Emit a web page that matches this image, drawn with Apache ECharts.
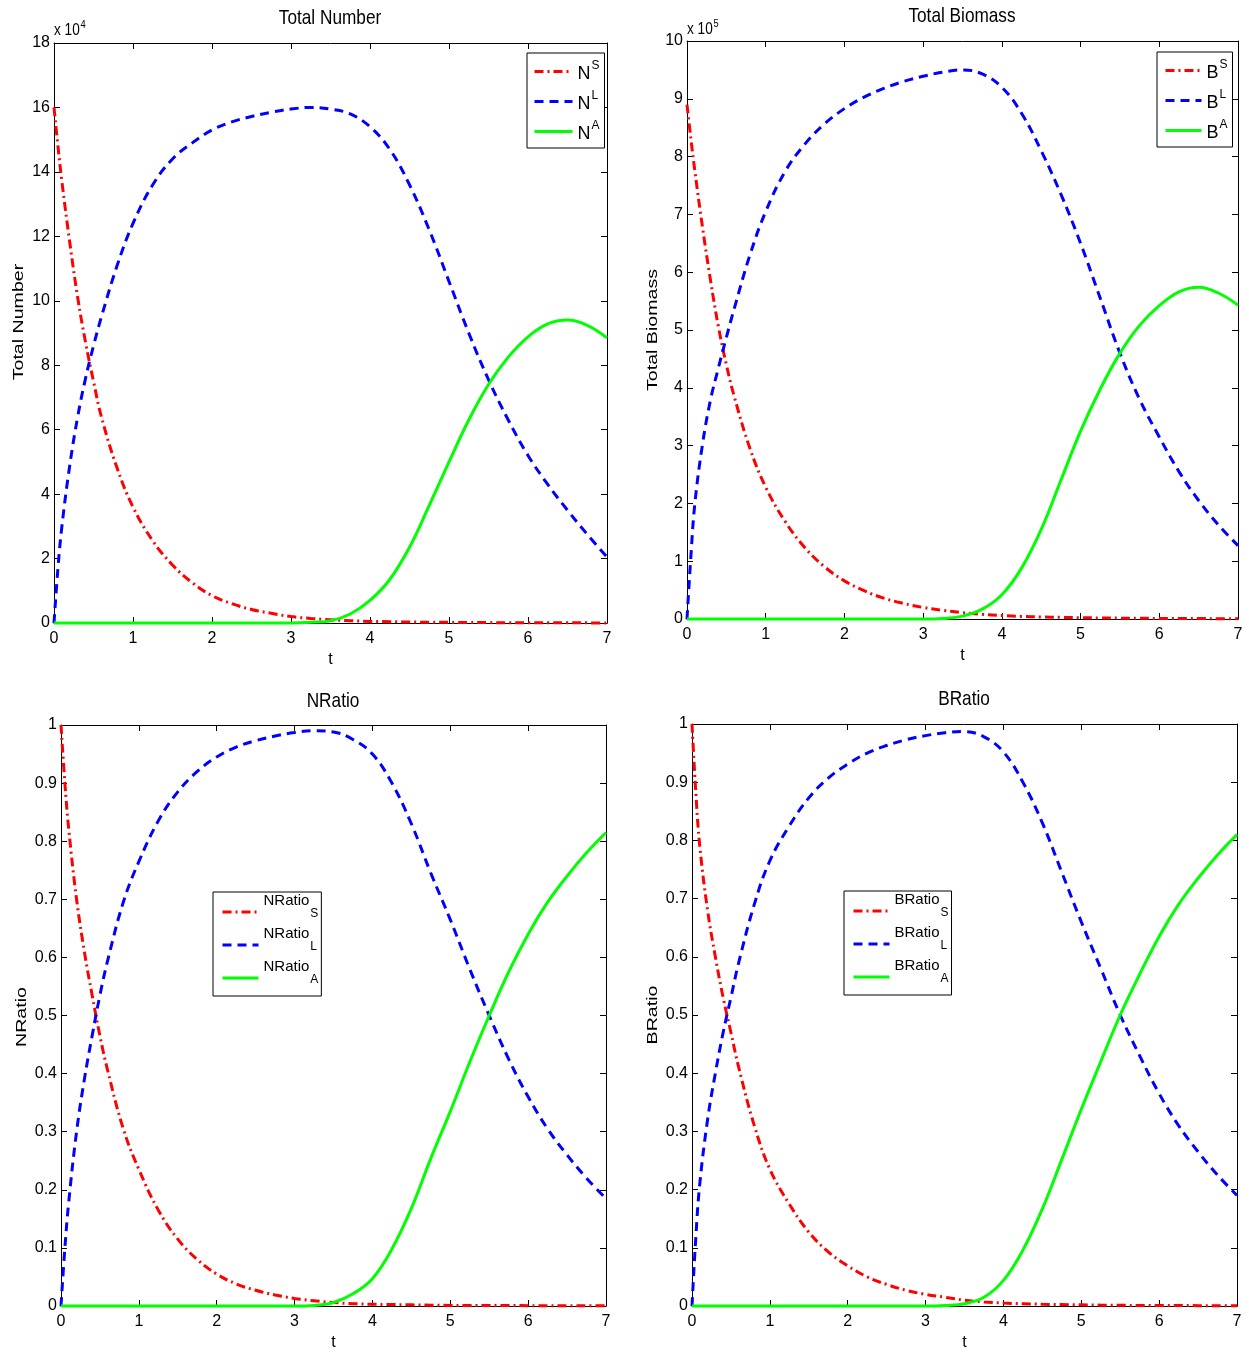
<!DOCTYPE html>
<html><head><meta charset="utf-8">
<script src="https://cdn.jsdelivr.net/npm/echarts@6/dist/echarts.min.js"></script>
<style>html,body{margin:0;padding:0;background:#fff}#c{width:1249px;height:1358px}</style>
</head><body><div id="c"></div>
<script>
// ---- data ----
const t = [0,0.05,0.1,0.2,0.3,0.4,0.5,0.6,0.8,1,1.25,1.5,1.75,2,2.25,2.5,2.75,3,3.25,3.5,3.75,4,4.25,4.5,4.75,5,5.25,5.5,5.75,6,6.25,6.5,6.75,7];
// Total Number (x 10^4)
const numberS = [16,14.8,13.7,11.8,10.1,8.7,7.5,6.4,4.8,3.6,2.55,1.8,1.25,0.85,0.6,0.42,0.3,0.2,0.14,0.1,0.07,0.05,0.04,0.03,0.025,0.02,0.015,0.012,0.01,0.008,0.006,0.005,0.004,0.003];
const numberL = [0,1.7,3.0,4.9,6.4,7.6,8.6,9.5,11.1,12.4,13.6,14.4,14.9,15.3,15.55,15.72,15.85,15.95,16.0,15.95,15.8,15.4,14.7,13.6,12.2,10.6,9.0,7.55,6.3,5.2,4.3,3.5,2.75,2.05];
const numberA = [0,0,0,0,0,0,0,0,0,0,0,0,0,0,0,0,0,0,0.02,0.07,0.28,0.7,1.35,2.35,3.65,5.0,6.3,7.4,8.25,8.88,9.28,9.4,9.24,8.85];
// Total Biomass (x 10^5)
const biomassS = [8.9,8.3,7.75,6.75,5.85,5.05,4.4,3.85,2.95,2.28,1.68,1.23,0.9,0.66,0.49,0.36,0.27,0.2,0.15,0.11,0.08,0.06,0.045,0.035,0.028,0.022,0.018,0.015,0.012,0.01,0.008,0.007,0.006,0.005];
const biomassL = [0,1.1,2.0,3.05,3.8,4.35,4.87,5.37,6.3,7.05,7.75,8.22,8.57,8.83,9.03,9.18,9.3,9.39,9.46,9.5,9.43,9.2,8.75,8.1,7.35,6.5,5.55,4.6,3.8,3.15,2.55,2.05,1.63,1.27];
const biomassA = [0,0,0,0,0,0,0,0,0,0,0,0,0,0,0,0,0,0,0.01,0.05,0.17,0.42,0.88,1.55,2.4,3.25,3.98,4.6,5.08,5.42,5.66,5.74,5.64,5.43];
// NRatio
const nratioS = [1,0.9,0.82,0.7,0.61,0.535,0.465,0.405,0.305,0.235,0.165,0.115,0.08,0.055,0.038,0.027,0.019,0.013,0.009,0.006,0.004,0.003,0.0025,0.002,0.0015,0.001,0.001,0.001,0.0008,0.0006,0.0005,0.0004,0.0003,0.0003];
const nratioL = [0,0.1,0.18,0.3,0.39,0.465,0.535,0.595,0.695,0.765,0.835,0.885,0.92,0.945,0.962,0.973,0.981,0.987,0.99,0.988,0.975,0.95,0.9,0.83,0.745,0.665,0.58,0.5,0.425,0.36,0.305,0.26,0.22,0.185];
const nratioA = [0,0,0,0,0,0,0,0,0,0,0,0,0,0,0,0,0,0,0.001,0.006,0.021,0.047,0.098,0.168,0.254,0.335,0.42,0.5,0.575,0.64,0.695,0.74,0.78,0.815];
// BRatio
const bratioS = [1,0.88,0.79,0.68,0.6,0.53,0.47,0.41,0.31,0.235,0.175,0.127,0.093,0.069,0.05,0.037,0.027,0.02,0.015,0.01,0.007,0.005,0.004,0.003,0.0025,0.002,0.0015,0.0012,0.001,0.001,0.0008,0.0006,0.0005,0.0005];
const bratioL = [0,0.12,0.21,0.32,0.4,0.47,0.53,0.59,0.69,0.765,0.825,0.873,0.907,0.931,0.95,0.963,0.973,0.98,0.985,0.987,0.978,0.952,0.9,0.83,0.745,0.66,0.58,0.5,0.43,0.365,0.31,0.265,0.225,0.19];
const bratioA = [0,0,0,0,0,0,0,0,0,0,0,0,0,0,0,0,0,0,0.001,0.004,0.015,0.044,0.096,0.167,0.252,0.338,0.42,0.5,0.57,0.635,0.69,0.735,0.775,0.81];

const titles = ['Total Number','Total Biomass','NRatio','BRatio'];
const yNames = ['Total Number','Total Biomass','NRatio','BRatio'];
const yMax = [18,10,1,1];
const yStep = [2,1,0.1,0.1];
const xMax = 7, xStep = 1;

// ---- layout / style ----
const FN = '"Liberation Sans",Arial,sans-serif';
const grids = [
  {left:54, top:43, width:553, height:580},
  {left:687, top:41, width:551, height:578},
  {left:61, top:725, width:545, height:581},
  {left:692, top:724, width:545, height:582}
];
const RED = {color:'#ff0000', width:3, type:[9,4,2,4], cap:'butt'};
const BLUE = {color:'#0000ff', width:3, type:[9,6], cap:'butt'};
const GREEN = {color:'#00ff00', width:3, type:'solid'};

const axLine = {show:true, onZero:false, lineStyle:{color:'#000', width:1}};
const axTick = {show:true, inside:true, length:6, lineStyle:{color:'#000', width:1}};
const xAxes = [], yAxes = [];
grids.forEach((g,i)=>{
  xAxes.push({gridIndex:i, type:'value', min:0, max:xMax, interval:xStep, position:'bottom',
    axisLine:axLine, axisTick:axTick, splitLine:{show:false},
    axisLabel:{color:'#000', fontFamily:FN, fontSize:16, margin:8},
    name:'t', nameLocation:'middle', nameGap:29,
    nameTextStyle:{color:'#000', fontFamily:FN, fontSize:16}});
  xAxes.push({gridIndex:i, type:'value', min:0, max:xMax, interval:xStep, position:'top',
    axisLine:axLine, axisTick:axTick, splitLine:{show:false}, axisLabel:{show:false}});
  yAxes.push({gridIndex:i, type:'value', min:0, max:yMax[i], interval:yStep[i], position:'left',
    axisLine:axLine, axisTick:axTick, splitLine:{show:false},
    axisLabel:{color:'#000', fontFamily:FN, fontSize:16, margin:4}});
  yAxes.push({gridIndex:i, type:'value', min:0, max:yMax[i], interval:yStep[i], position:'right',
    axisLine:axLine, axisTick:axTick, splitLine:{show:false}, axisLabel:{show:false}});
});

function pairs(arr){ return t.map((x,k)=>[x, arr[k]]); }
function mk(name, arr, style, i){
  return {name, type:'line', xAxisIndex:2*i, yAxisIndex:2*i, data:pairs(arr),
    symbol:'none', smooth:0.4, clip:false, lineStyle:style,
    itemStyle:{color:style.color}, silent:true, animation:false};
}
const series = [
  mk('NS', numberS, RED, 0), mk('NL', numberL, BLUE, 0), mk('NA', numberA, GREEN, 0),
  mk('BS', biomassS, RED, 1), mk('BL', biomassL, BLUE, 1), mk('BA', biomassA, GREEN, 1),
  mk('NRatioS', nratioS, RED, 2), mk('NRatioL', nratioL, BLUE, 2), mk('NRatioA', nratioA, GREEN, 2),
  mk('BRatioS', bratioS, RED, 3), mk('BRatioL', bratioL, BLUE, 3), mk('BRatioA', bratioA, GREEN, 3)
];

const richSup = {
  m:{fontFamily:FN, fontSize:18, color:'#000', verticalAlign:'bottom'},
  s:{fontFamily:FN, fontSize:12, color:'#000', verticalAlign:'top', padding:[0,0,11,1]}
};
const richSub = {
  m:{fontFamily:FN, fontSize:15, color:'#000', verticalAlign:'top'},
  s:{fontFamily:FN, fontSize:12, color:'#000', verticalAlign:'bottom', padding:[15,0,11,1]}
};
function supFmt(n){ return '{m|' + n.slice(0,-1) + '}{s|' + n.slice(-1) + '}'; }
function legendBase(names, left, top, padding, gap, rich, iw, tg){
  return {data:names, orient:'vertical', left, top, padding, itemGap:gap,
    itemWidth:iw, itemHeight:14, itemTextGap:tg, selectedMode:false,
    backgroundColor:'#fff', borderColor:'#000', borderWidth:1, borderRadius:0,
    itemStyle:{opacity:0}, lineStyle:{width:3}, formatter:supFmt, textStyle:{rich}};
}
const legends = [
  legendBase(['NS','NL','NA'], 527, 53, [7,5,5,6], 7, richSup, 38, 2),
  legendBase(['BS','BL','BA'], 1157, 52, [7,5,5,7], 7, richSup, 36, 2),
  legendBase(['NRatioS','NRatioL','NRatioA'], 213, 892, [1,3,10,8], 6, richSub, 36, 4),
  legendBase(['BRatioS','BRatioL','BRatioA'], 844, 891, [1,3,10,8], 6, richSub, 36, 4)
];

const titlePos = [[330,18],[962,16],[333,701],[964,699]];
const yNamePos = [[19,322],[653,330],[22,1017],[653,1015]];
const graphics = [];
titles.forEach((s,i)=>graphics.push({type:'text', x:titlePos[i][0], y:titlePos[i][1], scaleX:0.82,
  style:{text:s, font:'21px '+FN, fill:'#000', align:'center', verticalAlign:'middle'}}));
yNames.forEach((s,i)=>graphics.push({type:'text', x:yNamePos[i][0], y:yNamePos[i][1],
  rotation:Math.PI/2, scaleX:1.4,
  style:{text:s, font:'14px '+FN, fill:'#000', align:'center', verticalAlign:'middle'}}));
const expo = [['4',54,29],['5',687,28]];
expo.forEach(e=>graphics.push({type:'text', x:e[1], y:e[2], scaleX:0.85,
  style:{text:'{a|x 10}{b|'+e[0]+'}', align:'left', verticalAlign:'middle',
    rich:{a:{fontFamily:FN, fontSize:16, fill:'#000', color:'#000', verticalAlign:'bottom'},
          b:{fontFamily:FN, fontSize:11, fill:'#000', color:'#000', verticalAlign:'top', padding:[0,0,9,1]}}}}));

const chart = echarts.init(document.getElementById('c'), null, {renderer:'canvas'});
chart.setOption({
  animation:false, backgroundColor:'#fff',
  grid:grids, xAxis:xAxes, yAxis:yAxes, series, legend:legends, graphic:graphics
});
</script></body></html>
